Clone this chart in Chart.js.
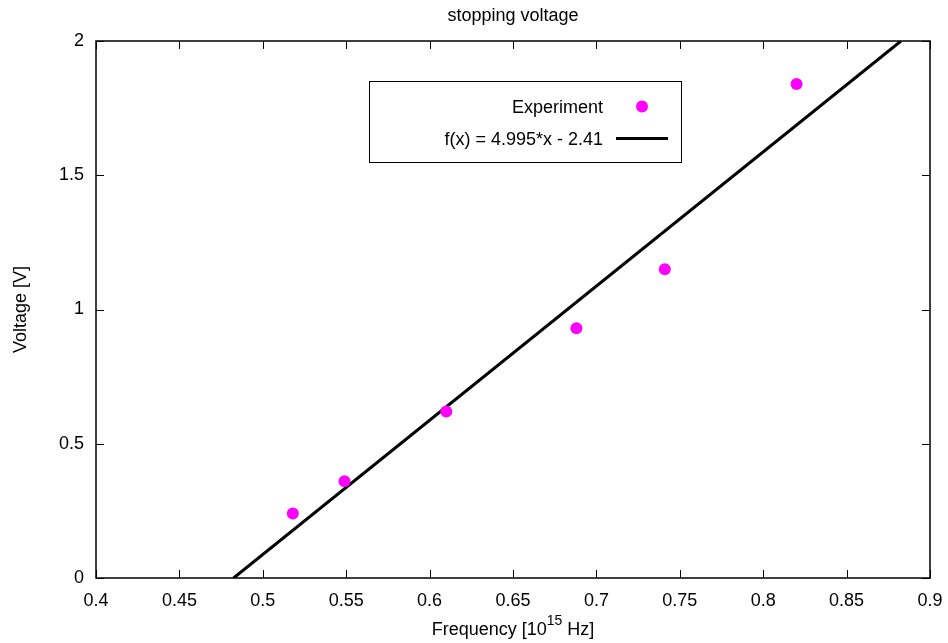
<!DOCTYPE html>
<html>
<head>
<meta charset="utf-8">
<script src="https://cdn.jsdelivr.net/npm/chart.js@4/dist/chart.umd.min.js"></script>
<style>
  html, body { margin: 0; padding: 0; background: #fff; }
  #wrap { width: 948px; height: 643px; position: relative; }
</style>
</head>
<body>
<div id="wrap"><canvas id="c" width="948" height="643"></canvas></div>
<script>
// ---- data ----
const titleText = "stopping voltage";
const xTitleMain = "Frequency [10";
const xTitleSup = "15";
const xTitleEnd = " Hz]";
const yTitleText = "Voltage [V]";
const expLabel = "Experiment";
const fitLabel = "f(x) = 4.995*x - 2.41";
const freq = [0.518, 0.549, 0.610, 0.688, 0.741, 0.820];
const volt = [0.24, 0.36, 0.62, 0.93, 1.15, 1.84];
const fitX = [0.4825, 0.8826];
const fitY = [0, 2];
const xTicks = [0.4, 0.45, 0.5, 0.55, 0.6, 0.65, 0.7, 0.75, 0.8, 0.85, 0.9];
const yTicks = [0, 0.5, 1, 1.5, 2];

const FONT = "'Liberation Sans', Arial, sans-serif";
const fmt = v => String(parseFloat(Number(v).toFixed(3)));

const framePlugin = {
  id: 'frame',
  afterDraw(chart) {
    const ctx = chart.ctx;
    const a = chart.chartArea;
    const xs = chart.scales.x, ys = chart.scales.y;
    ctx.save();
    // frame
    ctx.strokeStyle = '#000';
    ctx.lineWidth = 1.5;
    ctx.strokeRect(a.left, a.top, a.right - a.left, a.bottom - a.top);
    // inward ticks, mirrored
    ctx.lineWidth = 1;
    const tl = 8;
    ctx.beginPath();
    xTicks.forEach(v => {
      const px = Math.round(xs.getPixelForValue(v)) + 0.5;
      ctx.moveTo(px, a.bottom); ctx.lineTo(px, a.bottom - tl);
      ctx.moveTo(px, a.top); ctx.lineTo(px, a.top + tl);
    });
    yTicks.forEach(v => {
      const py = Math.round(ys.getPixelForValue(v)) + 0.5;
      ctx.moveTo(a.left, py); ctx.lineTo(a.left + tl, py);
      ctx.moveTo(a.right, py); ctx.lineTo(a.right - tl, py);
    });
    ctx.stroke();

    // title
    ctx.fillStyle = '#000';
    ctx.textAlign = 'center';
    ctx.textBaseline = 'alphabetic';
    ctx.font = '18px ' + FONT;
    const cx = (a.left + a.right) / 2;
    ctx.fillText(titleText, cx, 21);

    // x axis title with superscript
    ctx.font = '18px ' + FONT;
    const w1 = ctx.measureText(xTitleMain).width;
    const w3 = ctx.measureText(xTitleEnd).width;
    ctx.font = '14px ' + FONT;
    const w2 = ctx.measureText(xTitleSup).width;
    const total = w1 + w2 + w3;
    let sx = cx - total / 2;
    ctx.textAlign = 'left';
    ctx.font = '18px ' + FONT;
    ctx.fillText(xTitleMain, sx, 635);
    ctx.font = '14px ' + FONT;
    ctx.fillText(xTitleSup, sx + w1, 625);
    ctx.font = '18px ' + FONT;
    ctx.fillText(xTitleEnd, sx + w1 + w2, 635);

    // y axis title
    ctx.save();
    ctx.translate(26, (a.top + a.bottom) / 2);
    ctx.rotate(-Math.PI / 2);
    ctx.textAlign = 'center';
    ctx.textBaseline = 'alphabetic';
    ctx.font = '18px ' + FONT;
    ctx.fillText(yTitleText, 0, 0);
    ctx.restore();

    // legend box
    const lx = 369, ly = 81, lw = 312, lh = 81;
    ctx.fillStyle = '#fff';
    ctx.fillRect(lx, ly, lw, lh);
    ctx.strokeStyle = '#000';
    ctx.lineWidth = 1;
    ctx.strokeRect(lx + 0.5, ly + 0.5, lw, lh);
    ctx.fillStyle = '#000';
    ctx.font = '18px ' + FONT;
    ctx.textAlign = 'right';
    ctx.textBaseline = 'alphabetic';
    ctx.fillText(expLabel, 603, 113);
    ctx.fillText(fitLabel, 603, 145);
    ctx.fillStyle = '#ff00ff';
    ctx.beginPath();
    ctx.arc(642, 106.5, 6, 0, Math.PI * 2);
    ctx.fill();
    ctx.strokeStyle = '#000';
    ctx.lineWidth = 3;
    ctx.beginPath();
    ctx.moveTo(616, 138.5);
    ctx.lineTo(668, 138.5);
    ctx.stroke();
    ctx.restore();
  }
};

new Chart(document.getElementById('c'), {
  type: 'scatter',
  data: {
    datasets: [
      {
        label: fitLabel,
        type: 'line',
        data: fitX.map((x, i) => ({ x, y: fitY[i] })),
        borderColor: '#000',
        borderWidth: 3,
        pointRadius: 0,
        fill: false,
        order: 2
      },
      {
        label: expLabel,
        data: freq.map((x, i) => ({ x, y: volt[i] })),
        backgroundColor: '#ff00ff',
        borderColor: '#ff00ff',
        pointRadius: 6,
        pointBorderWidth: 0,
        order: 1
      }
    ]
  },
  options: {
    responsive: false,
    animation: false,
    devicePixelRatio: 1,
    layout: { padding: { left: 0, right: 18, top: 41, bottom: 0 } },
    plugins: {
      legend: { display: false },
      title: { display: false },
      tooltip: { enabled: false }
    },
    scales: {
      x: {
        type: 'linear',
        min: 0.4, max: 0.9,
        afterBuildTicks: s => { s.ticks = xTicks.map(v => ({ value: v })); },
        afterFit: s => { s.height = 65; s.paddingLeft = 0; s.paddingRight = 0; },
        grid: { display: false, drawTicks: false },
        border: { display: false },
        ticks: {
          color: '#000',
          padding: 12,
          maxRotation: 0,
          autoSkip: false,
          font: { family: FONT, size: 18 },
          callback: v => fmt(v)
        }
      },
      y: {
        type: 'linear',
        min: 0, max: 2,
        afterBuildTicks: s => { s.ticks = yTicks.map(v => ({ value: v })); },
        afterFit: s => { s.width = 96; s.paddingTop = 0; s.paddingBottom = 0; },
        grid: { display: false, drawTicks: false },
        border: { display: false },
        ticks: {
          color: '#000',
          padding: 12,
          autoSkip: false,
          font: { family: FONT, size: 18 },
          callback: v => fmt(v)
        }
      }
    }
  },
  plugins: [framePlugin]
});
</script>
</body>
</html>
